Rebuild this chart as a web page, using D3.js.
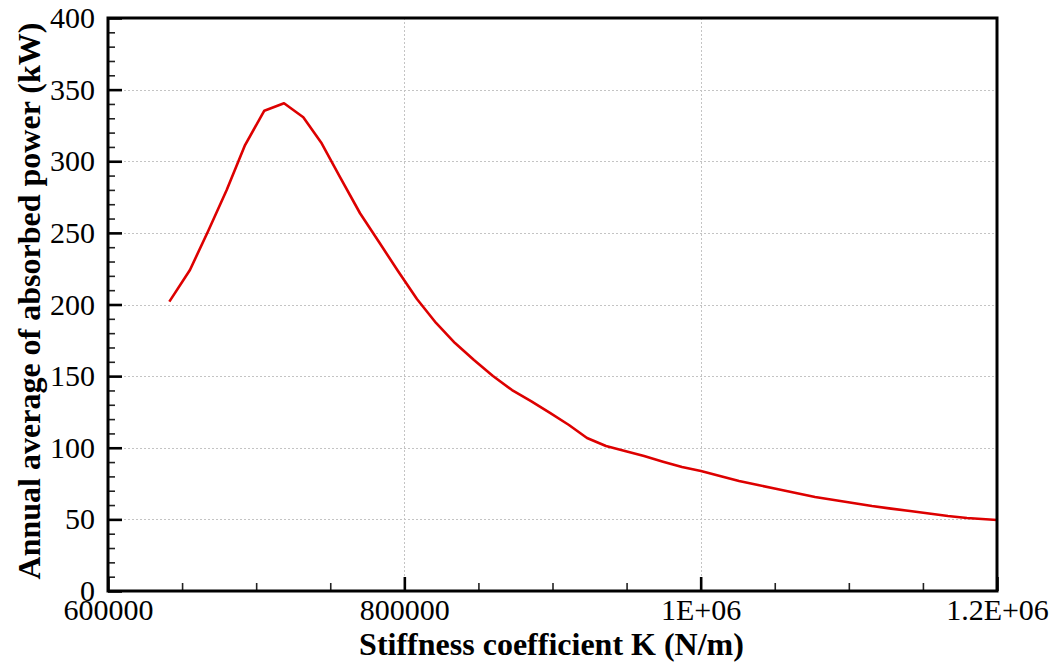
<!DOCTYPE html>
<html>
<head>
<meta charset="utf-8">
<script src="https://cdn.jsdelivr.net/npm/d3@7"></script>
<style>
  html, body { margin: 0; padding: 0; background: #fff; }
  svg { display: block; }
  text { font-family: "Liberation Serif", "Times New Roman", serif; fill: #000; }
</style>
</head>
<body>
<svg id="chart" width="1062" height="662"></svg>
<script>
// Stiffness coefficient K (N/m)
const stiffness = [
  641400, 655300, 667700, 680100, 692500, 705500, 718800, 731800, 744200,
  756600, 770100, 782900, 795700, 808500, 821400, 834200, 847000, 859800,
  872700, 885500, 898300, 911100, 923300, 936100, 948900, 961800, 974600,
  987400, 1000200, 1013000, 1025900, 1038700, 1051500, 1064300, 1077200,
  1090000, 1102800, 1115600, 1128500, 1141300, 1154100, 1166900, 1179700, 1200000
];
// Annual average of absorbed power (kW)
const power = [
  202.0, 224.1, 251.5, 279.9, 311.3, 335.3, 340.5, 330.7, 312.5,
  289.0, 263.7, 243.6, 223.4, 203.8, 187.1, 173.1, 161.3, 150.1,
  140.3, 132.6, 124.3, 115.9, 106.8, 101.2, 97.7, 94.2, 90.3,
  86.6, 83.8, 80.3, 76.8, 74.0, 71.2, 68.4, 65.6,
  63.5, 61.4, 59.3, 57.5, 55.8, 54.1, 52.4, 51.0, 49.6
];

const xTickValues = [600000, 800000, 1000000, 1200000];
const xTickLabels = ["600000", "800000", "1E+06", "1.2E+06"];
const xMinorValues = [650000, 700000, 750000, 850000, 900000, 950000, 1050000, 1100000, 1150000];
const yTickValues = [0, 50, 100, 150, 200, 250, 300, 350, 400];
const yTickLabels = ["0", "50", "100", "150", "200", "250", "300", "350", "400"];
const yMinorValues = d3.range(0, 401, 10).filter(v => v % 50 !== 0);

const xTitle = "Stiffness coefficient K (N/m)";
const yTitle = "Annual average of absorbed power (kW)";

const svg = d3.select("#chart");
const plotLeft = 108, plotRight = 997, plotTop = 18, plotBottom = 591;

const x = d3.scaleLinear().domain([600000, 1200000]).range([plotLeft, plotRight]);
const y = d3.scaleLinear().domain([0, 400]).range([plotBottom, plotTop]);

// dotted grid at the major ticks
const grid = svg.append("g").attr("stroke", "#c4c4c4").attr("stroke-width", 1)
  .attr("stroke-dasharray", "2,2");
grid.selectAll("line.h").data(yTickValues.slice(1, -1)).join("line")
  .attr("x1", plotLeft).attr("x2", plotRight)
  .attr("y1", d => Math.round(y(d)) + 0.5).attr("y2", d => Math.round(y(d)) + 0.5);
grid.selectAll("line.v").data(xTickValues.slice(1, -1)).join("line")
  .attr("y1", plotTop).attr("y2", plotBottom)
  .attr("x1", d => Math.round(x(d)) + 0.5).attr("x2", d => Math.round(x(d)) + 0.5);

// data curve
const line = d3.line().x((d, i) => x(stiffness[i])).y(d => y(d));
svg.append("path").datum(power)
  .attr("fill", "none").attr("stroke", "#dd0000").attr("stroke-width", 2.6)
  .attr("stroke-linejoin", "round").attr("d", line);

// minor ticks (inward)
svg.append("g").attr("transform", `translate(0,${plotBottom})`)
  .call(d3.axisBottom(x).tickValues(xMinorValues).tickSize(-8).tickFormat(""))
  .call(g => g.select(".domain").remove())
  .call(g => g.selectAll("line").attr("stroke", "#222").attr("stroke-width", 1.6));
svg.append("g").attr("transform", `translate(${plotLeft},0)`)
  .call(d3.axisLeft(y).tickValues(yMinorValues).tickSize(-7).tickFormat(""))
  .call(g => g.select(".domain").remove())
  .call(g => g.selectAll("line").attr("stroke", "#222").attr("stroke-width", 1.6));

// major ticks and labels
svg.append("g").attr("transform", `translate(0,${plotBottom})`)
  .call(d3.axisBottom(x).tickValues(xTickValues).tickSize(-14).tickPadding(8)
    .tickFormat((d, i) => xTickLabels[i]))
  .call(g => g.select(".domain").remove())
  .call(g => g.selectAll("line").attr("stroke", "#000").attr("stroke-width", 2.6))
  .call(g => g.selectAll("text").attr("font-size", 30)
    .attr("font-family", "'Liberation Serif', serif").attr("fill", "#000"));
svg.append("g").attr("transform", `translate(${plotLeft},0)`)
  .call(d3.axisLeft(y).tickValues(yTickValues).tickSize(-14).tickPadding(13)
    .tickFormat((d, i) => yTickLabels[i]))
  .call(g => g.select(".domain").remove())
  .call(g => g.selectAll("line").attr("stroke", "#000").attr("stroke-width", 2.6))
  .call(g => g.selectAll("text").attr("font-size", 30)
    .attr("font-family", "'Liberation Serif', serif").attr("fill", "#000"));

// frame
svg.append("rect").attr("x", plotLeft).attr("y", plotTop)
  .attr("width", plotRight - plotLeft).attr("height", plotBottom - plotTop)
  .attr("fill", "none").attr("stroke", "#000").attr("stroke-width", 3);

// axis titles
svg.append("text").attr("x", (plotLeft + plotRight) / 2 - 1).attr("y", 655)
  .attr("text-anchor", "middle").attr("font-size", 32).attr("font-weight", "bold")
  .text(xTitle);
svg.append("text").attr("transform", "translate(40,301) rotate(-90)")
  .attr("text-anchor", "middle").attr("font-size", 32).attr("font-weight", "bold")
  .text(yTitle);
</script>
</body>
</html>
